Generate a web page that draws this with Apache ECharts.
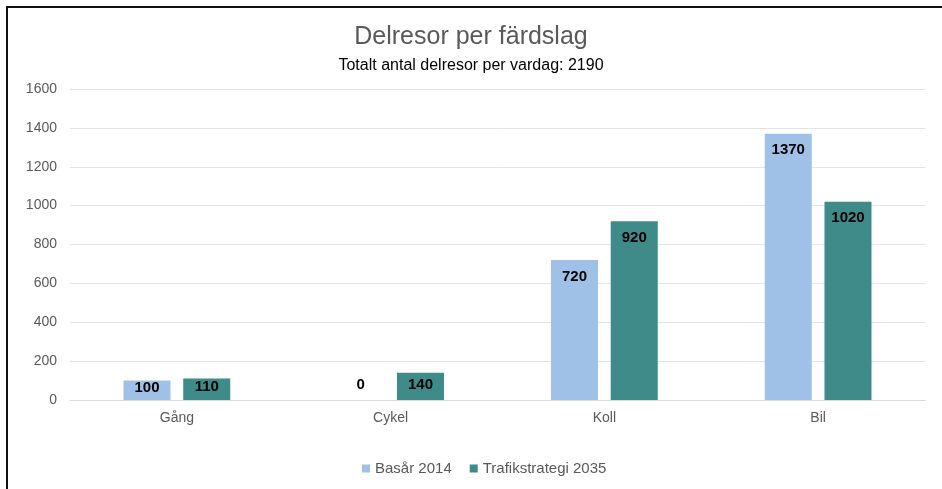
<!DOCTYPE html>
<html>
<head>
<meta charset="utf-8">
<script src="https://cdn.jsdelivr.net/npm/echarts@6/dist/echarts.min.js"></script>
<style>
    html, body { margin: 0; padding: 0; background: #fff; }
    #frame { position: absolute; left: 6px; top: 6px; width: 940px; height: 489px; border-left: 2px solid #111; border-top: 2px solid #111; }
    #chart { position: absolute; left: 0; top: 0; width: 942px; height: 489px; }
</style>
</head>
<body>
<div id="chart"></div>
<div id="frame"></div>
<script>
var categories = ['Gång', 'Cykel', 'Koll', 'Bil'];
var basar2014 = [100, 0, 720, 1370];
var trafik2035 = [110, 140, 920, 1020];
var yTicks = [0, 200, 400, 600, 800, 1000, 1200, 1400, 1600];

var font = '"Liberation Sans", Arial, sans-serif';

// små staplar: etiketten mitt i stapeln, som i Excel
function toItems(values) {
    return values.map(function (v) {
        if (v === 0) {
            return { value: v, label: { position: 'top', offset: [0, 1] } };
        }
        if (v < 200) {
            return { value: v, label: { position: 'inside', offset: [0, -2] } };
        }
        return v;
    });
}

var barLabel = {
    show: true,
    position: 'insideTop',
    distance: 9,
    color: '#000',
    fontWeight: 'bold',
    fontSize: 15,
    fontFamily: font
};

var chart = echarts.init(document.getElementById('chart'));
var option = {
    animation: false,
    title: [{
        text: 'Delresor per färdslag',
        left: 'center',
        top: 20,
        textStyle: { color: '#595959', fontSize: 25, fontWeight: 'normal', fontFamily: font }
    }, {
        text: 'Totalt antal delresor per vardag: 2190',
        left: 'center',
        top: 53,
        textStyle: { color: '#000', fontSize: 16, fontWeight: 'normal', fontFamily: font }
    }],
    legend: {
        bottom: 8,
        left: 357,
        itemWidth: 8,
        itemHeight: 8,
        itemGap: 18,
        icon: 'rect',
        textStyle: { color: '#595959', fontSize: 15, fontFamily: font },
        data: ['Basår 2014', 'Trafikstrategi 2035']
    },
    grid: { left: 70, right: 17, top: 89, bottom: 89 },
    xAxis: {
        type: 'category',
        data: categories,
        axisLine: { lineStyle: { color: '#d9d9d9' } },
        axisTick: { show: false },
        axisLabel: { color: '#595959', fontSize: 14, fontFamily: font, margin: 11 }
    },
    yAxis: {
        type: 'value',
        min: yTicks[0],
        max: yTicks[yTicks.length - 1],
        interval: 200,
        axisLine: { show: false },
        axisTick: { show: false },
        axisLabel: {
            color: '#595959', fontSize: 14, fontFamily: font, margin: 13,
            formatter: function (v) { return String(v); }
        },
        splitLine: { lineStyle: { color: '#e3e3e3' } }
    },
    series: [{
        name: 'Basår 2014',
        type: 'bar',
        barWidth: '22%',
        barGap: '27%',
        itemStyle: { color: '#9fc1e7' },
        label: barLabel,
        data: toItems(basar2014)
    }, {
        name: 'Trafikstrategi 2035',
        type: 'bar',
        barWidth: '22%',
        itemStyle: { color: '#3e8b8a' },
        label: barLabel,
        data: toItems(trafik2035)
    }]
};
chart.setOption(option);
</script>
</body>
</html>
